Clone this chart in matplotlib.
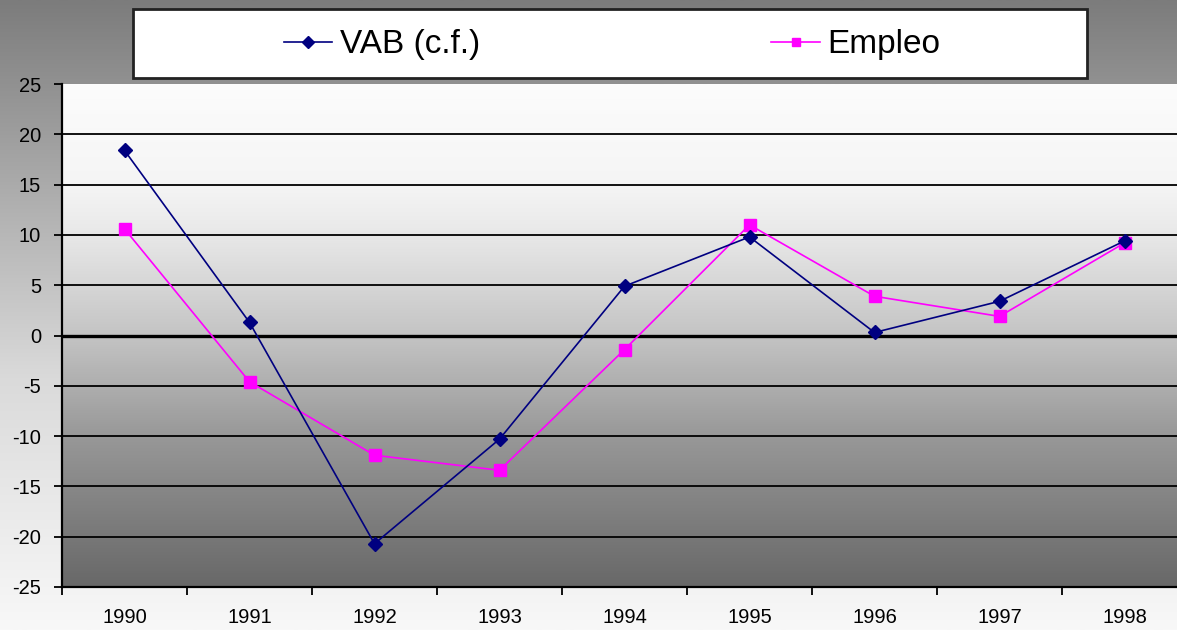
# VAB (c.f.) vs Empleo, annual rates 1990-1998
import numpy as np
import matplotlib.pyplot as plt
from matplotlib.patches import Rectangle
from matplotlib.colors import LinearSegmentedColormap

years = ['1990', '1991', '1992', '1993', '1994', '1995', '1996', '1997', '1998']
vab = [18.4, 1.3, -20.7, -10.3, 4.9, 9.8, 0.3, 3.4, 9.4]
empleo = [10.6, -4.6, -11.9, -13.4, -1.4, 11.0, 3.9, 1.9, 9.2]
yticks = [-25, -20, -15, -10, -5, 0, 5, 10, 15, 20, 25]

plt.rcParams['font.family'] = ['Liberation Sans', 'DejaVu Sans']

W, H = 1177, 630
fig = plt.figure(figsize=(W / 100, H / 100), dpi=100)

# outer background: gray at the top fading to near white at the bottom
bg = fig.add_axes([0, 0, 1, 1], zorder=-10)
bg_cmap = LinearSegmentedColormap.from_list(
    'bg', [(0.0, '#7c7c7c'), (0.35, '#b4b4b4'), (0.6, '#dadada'), (1.0, '#f8f8f8')])
bg.imshow(np.linspace(0, 1, 256).reshape(-1, 1), aspect='auto', cmap=bg_cmap,
          extent=[0, 1, 0, 1], origin='upper')
bg.set_axis_off()

x0, x1 = 62, 1187
ytop, ybot = 84, 587
ax = fig.add_axes([x0 / W, (H - ybot) / H, (x1 - x0) / W, (ybot - ytop) / H])
ax.set_xlim(0.5, 9.5)
ax.set_ylim(-25, 25)

# plot area: white at the top, darkening towards the bottom
pa_cmap = LinearSegmentedColormap.from_list(
    'pa', [(0.0, '#fcfcfc'), (0.2, '#f5f5f5'), (0.3, '#e8e8e8'),
           (0.5, '#c4c4c4'), (0.7, '#989898'), (1.0, '#686868')])
ax.imshow(np.linspace(0, 1, 256).reshape(-1, 1), aspect='auto', cmap=pa_cmap,
          extent=[0.5, 9.5, -25, 25], origin='upper', zorder=0)

for v in yticks[1:-1]:
    ax.axhline(v, color='black', lw=2.4 if v == 0 else 1.3, zorder=1)

xs = np.arange(1, len(years) + 1)
ax.plot(xs, vab, color='#000080', lw=1.2, marker='D', ms=7.5,
        label='VAB (c.f.)', zorder=3)
ax.plot(xs, empleo, color='#ff00ff', lw=1.2, marker='s', ms=8,
        label='Empleo', zorder=2)

ax.set_yticks(yticks)
ax.set_yticklabels([str(v) for v in yticks], fontsize=14.5)
ax.set_xticks(np.arange(0.5, 10, 1))
ax.set_xticklabels([])
ax.set_xticks(xs, minor=True)
ax.set_xticklabels(years, minor=True, fontsize=14.5)
ax.tick_params(axis='y', length=6, width=1.3, pad=9, color='black')
ax.tick_params(axis='x', which='major', length=6, width=1.3, color='black')
ax.tick_params(axis='x', which='minor', length=0, pad=15)
for s in ['top', 'right']:
    ax.spines[s].set_visible(False)
for s in ['left', 'bottom']:
    ax.spines[s].set_linewidth(1.6)

# legend box
fig.add_artist(Rectangle((133 / W, (H - 78) / H), (1087 - 133) / W, 69 / H,
                         transform=fig.transFigure, facecolor='white',
                         edgecolor='#222222', lw=2, zorder=5))
leg = fig.legend(loc='center', bbox_to_anchor=(612 / W, (H - 45) / H), ncol=2,
                 frameon=False, fontsize=24, handlelength=1.45,
                 handletextpad=0.22, columnspacing=8.75, markerscale=0.75)
leg.set_zorder(6)

fig.savefig('out.png', dpi=100)
